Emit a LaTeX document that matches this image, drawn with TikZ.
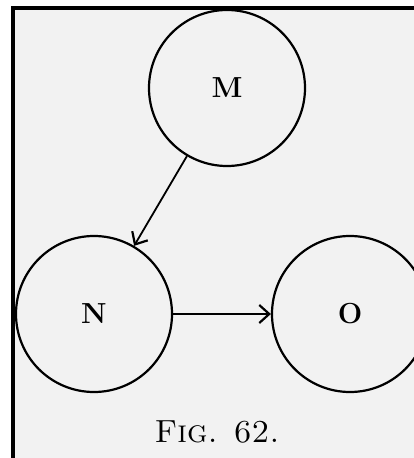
\documentclass[tikz,border=0pt]{standalone}
\usepackage{fontspec}
\usetikzlibrary{arrows.meta}
\begin{document}
\begin{tikzpicture}[x=1pt,y=-1pt,
  ball/.style={circle,draw,line width=2.2pt,minimum size=156pt,inner sep=0pt,
    font=\fontsize{29}{29}\selectfont\bfseries},
  link/.style={line width=1.8pt,-{Straight Barb[length=10pt,width=18pt,line width=2.2pt]}},
  frameline/.style={line width=4pt}]
\useasboundingbox (0,0) rectangle (414,458);
\fill[white] (0,0) rectangle (414,458);
\fill[black!5] (13,8) rectangle (414,458);
\draw[frameline] (13,458) -- (13,8) -- (414,8);
\node[ball] (M) at (227,88) {M};
\node[ball] (N) at (94,314) {N};
\node[ball] (O) at (350,314) {O};
\draw[link] (M) -- (N);
\draw[link] (N) -- (O);
\node (cap) at (217,432) {\fontsize{32}{32}\selectfont\textsc{Fig. 62.}};
\end{tikzpicture}
\end{document}
